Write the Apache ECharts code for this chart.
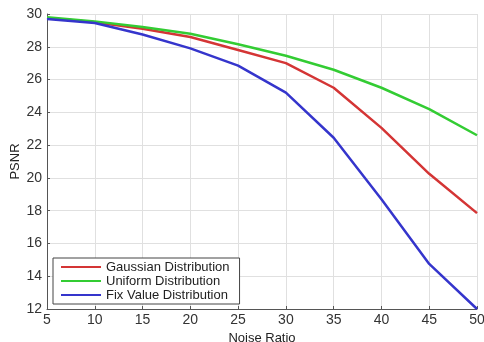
<!DOCTYPE html>
<html>
<head>
<meta charset="utf-8">
<script src="https://cdn.jsdelivr.net/npm/echarts@6/dist/echarts.min.js"></script>
<style>
html, body { margin: 0; padding: 0; background: #fff; }
#chart { width: 484px; height: 342px; }
</style>
</head>
<body>
<div id="chart"></div>
<script>
var noiseRatio = [5, 10, 15, 20, 25, 30, 35, 40, 45, 50];
var gaussian = [29.75, 29.5, 29.1, 28.6, 27.8, 27.0, 25.5, 23.05, 20.25, 17.85];
var uniform = [29.8, 29.55, 29.2, 28.8, 28.15, 27.45, 26.6, 25.5, 24.2, 22.6];
var fixValue = [29.7, 29.45, 28.75, 27.9, 26.85, 25.2, 22.45, 18.7, 14.75, 12.0];

function pairs(ys) {
	return noiseRatio.map(function (x, i) { return [x, ys[i]]; });
}

var myChart = echarts.init(document.getElementById('chart'));
var font = 'Liberation Sans, Arial, sans-serif';
var option = {
	animation: false,
	textStyle: { fontFamily: font },
	grid: { left: 47, right: 7, top: 14, bottom: 33, outerBoundsMode: 'none', containLabel: false },
	legend: {
		orient: 'vertical',
		left: 53,
		top: 258,
		itemGap: 0,
		itemWidth: 40,
		itemHeight: 2,
		padding: [2, 10, 2, 8],
		borderColor: '#444',
		borderWidth: 1,
		backgroundColor: '#fff',
		icon: 'rect',
		textStyle: { fontSize: 13, lineHeight: 14, color: '#222', fontFamily: font },
		data: ['Gaussian Distribution', 'Uniform Distribution', 'Fix Value Distribution']
	},
	xAxis: {
		type: 'value',
		min: 5, max: 50, interval: 5,
		name: 'Noise Ratio',
		nameLocation: 'middle',
		nameGap: 19,
		nameTextStyle: { fontSize: 13, color: '#222' },
		axisLine: { lineStyle: { color: '#555' } },
		axisTick: { inside: true, length: 3, lineStyle: { color: '#555' } },
		axisLabel: { fontSize: 14, color: '#333', margin: 4 },
		splitLine: { show: true, lineStyle: { color: '#e0e0e0' } }
	},
	yAxis: {
		type: 'value',
		min: 12, max: 30, interval: 2,
		name: 'PSNR',
		nameLocation: 'middle',
		nameGap: 25,
		nameMoveOverlap: false,
		nameTextStyle: { fontSize: 13, color: '#222' },
		axisLine: { show: true, lineStyle: { color: '#555' } },
		axisTick: { show: true, inside: true, length: 3, lineStyle: { color: '#555' } },
		axisLabel: { fontSize: 14, color: '#333', margin: 5 },
		splitLine: { show: true, lineStyle: { color: '#e0e0e0' } }
	},
	series: [
		{ name: 'Gaussian Distribution', type: 'line', data: pairs(gaussian), symbol: 'none', color: '#d43535', lineStyle: { width: 2.5 } },
		{ name: 'Uniform Distribution', type: 'line', data: pairs(uniform), symbol: 'none', color: '#33cc33', lineStyle: { width: 2.5 } },
		{ name: 'Fix Value Distribution', type: 'line', data: pairs(fixValue), symbol: 'none', color: '#3535cc', lineStyle: { width: 2.5 } }
	]
};
myChart.setOption(option);
</script>
</body>
</html>
